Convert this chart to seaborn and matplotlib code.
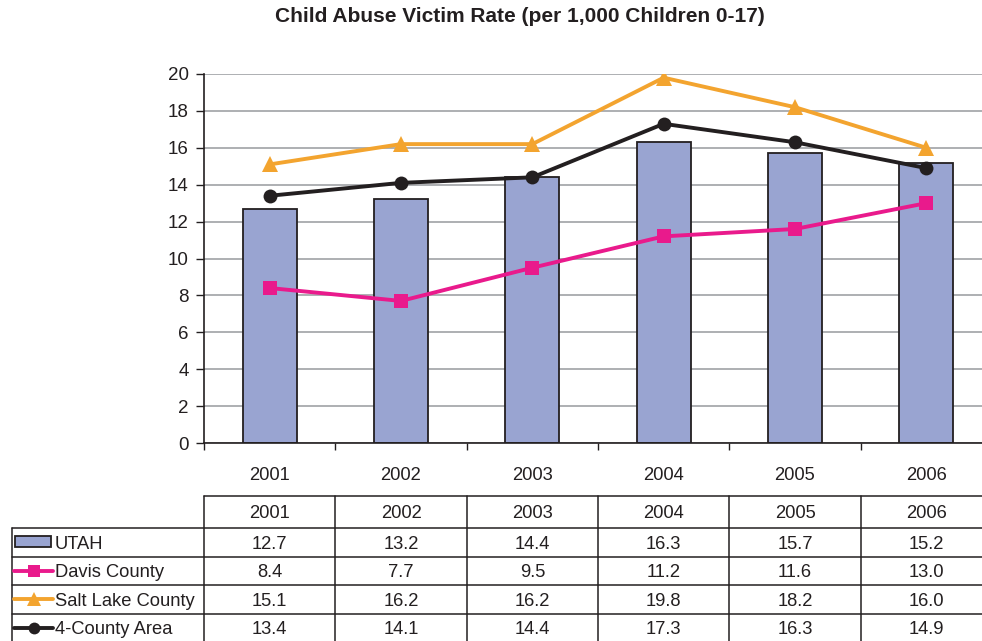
import numpy as np
import pandas as pd
import matplotlib
matplotlib.use("Agg")
import matplotlib.pyplot as plt
from matplotlib.lines import Line2D
from matplotlib.patches import Rectangle
import seaborn as sns

years = ["2001", "2002", "2003", "2004", "2005", "2006"]
utah = [12.7, 13.2, 14.4, 16.3, 15.7, 15.2]
davis = [8.4, 7.7, 9.5, 11.2, 11.6, 13.0]
salt_lake = [15.1, 16.2, 16.2, 19.8, 18.2, 16.0]
four_county = [13.4, 14.1, 14.4, 17.3, 16.3, 14.9]
series_names = ["UTAH", "Davis County", "Salt Lake County", "4-County Area"]

BAR_C = "#99A4D1"
EDGE_C = "#231F20"
DAVIS_C = "#E91A8C"
SALT_C = "#F3A42F"
FOUR_C = "#231F20"
TXT_C = "#231F20"
FS = 13.2

sns.set_theme(style="white")
plt.rcParams["font.family"] = ["Liberation Sans", "DejaVu Sans"]

W, H = 982, 641
fig = plt.figure(figsize=(W / 100, H / 100), dpi=100)


def fx(x):
    return x / W


def fy(y):
    return 1 - y / H


# plot area in pixel space: x 204..992, y 74..443
ax = fig.add_axes([fx(204), fy(443), (992 - 204) / W, (443 - 74) / H])

df = pd.DataFrame({"year": years, "utah": utah, "davis": davis,
                   "salt": salt_lake, "four": four_county})
df["pos"] = np.arange(len(years))

sns.barplot(data=df, x="year", y="utah", color=BAR_C, width=0.41,
            edgecolor=EDGE_C, linewidth=1.3, saturation=1, ax=ax, zorder=2)

line_specs = [("davis", DAVIS_C, "s", 10), ("salt", SALT_C, "^", 11.5),
              ("four", FOUR_C, "o", 10)]
for col, c, m, ms in line_specs:
    sns.lineplot(data=df, x="pos", y=col, color=c, marker=m, markersize=ms,
                 markeredgewidth=0, linewidth=2.8, ax=ax, zorder=3)

ax.set_xlim(-0.5, len(years) - 0.5)
ax.set_ylim(0, 20)
ax.set_yticks(np.arange(0, 21, 2))
ax.set_xticks(np.arange(len(years)))
ax.set_xticklabels(years)
ax.set_xticks(np.arange(-0.5, len(years), 1.0), minor=True)
ax.set_xlabel("")
ax.set_ylabel("")
ax.yaxis.grid(True, color="#A7A9AC", linewidth=1.3, zorder=0)
ax.set_axisbelow(True)
for s in ["top", "right"]:
    ax.spines[s].set_visible(False)
ax.spines["left"].set_color(EDGE_C)
ax.spines["bottom"].set_color(EDGE_C)
ax.spines["left"].set_linewidth(1.2)
ax.spines["bottom"].set_linewidth(1.2)
ax.tick_params(axis="y", which="major", direction="out", length=6, width=1,
               color=EDGE_C, labelsize=13.5, labelcolor=TXT_C, pad=5, left=True)
ax.tick_params(axis="x", which="major", length=0, labelsize=FS,
               labelcolor=TXT_C, pad=17)
ax.tick_params(axis="x", which="minor", direction="out", length=5, width=1,
               color=EDGE_C, bottom=True)

fig.text(fx(520), fy(17), "Child Abuse Victim Rate (per 1,000 Children 0-17)",
         ha="center", va="center", fontsize=15, fontweight="bold", color=TXT_C)

# data table under the chart
col_w = (992 - 204) / len(years)
col_edges = [204 + i * col_w for i in range(len(years) + 1)]
row_edges = [496, 528, 556.5, 585, 613.5, 642]
lc = "#231F20"


def hline(x0, x1, y):
    fig.add_artist(Line2D([fx(x0), fx(x1)], [fy(y), fy(y)], color=lc, lw=1.1))


def vline(x, y0, y1):
    fig.add_artist(Line2D([fx(x), fx(x)], [fy(y0), fy(y1)], color=lc, lw=1.1))


hline(204, 1000, row_edges[0])
for y in row_edges[1:]:
    hline(12, 1000, y)
for x in col_edges:
    vline(x, row_edges[0], 645)
vline(12, row_edges[1], 645)

for i, yr in enumerate(years):
    cx = (col_edges[i] + col_edges[i + 1]) / 2
    fig.text(fx(cx), fy((row_edges[0] + row_edges[1]) / 2 + 1), yr,
             ha="center", va="center", fontsize=FS, color=TXT_C)

table_vals = [utah, davis, salt_lake, four_county]
for r, vals in enumerate(table_vals):
    cy = (row_edges[r + 1] + row_edges[r + 2]) / 2 + 2
    for i, v in enumerate(vals):
        cx = (col_edges[i] + col_edges[i + 1]) / 2
        fig.text(fx(cx), fy(cy), f"{v:.1f}", ha="center", va="center",
                 fontsize=FS, color=TXT_C)
    fig.text(fx(55), fy(cy), series_names[r], ha="left", va="center",
             fontsize=FS, color=TXT_C)

# legend keys in the first column
ky = (row_edges[1] + row_edges[2]) / 2
fig.add_artist(Rectangle((fx(15), fy(ky + 5)), 36 / W, 11 / H,
                         facecolor=BAR_C, edgecolor=EDGE_C, lw=1.3,
                         transform=fig.transFigure))
for r, (col, c, m, ms) in enumerate(line_specs, start=1):
    cy = (row_edges[r + 1] + row_edges[r + 2]) / 2
    fig.add_artist(Line2D([fx(14), fx(53)], [fy(cy), fy(cy)], color=c, lw=2.8))
    fig.add_artist(Line2D([fx(33.5)], [fy(cy)], color=c, marker=m,
                          markersize=ms * 0.85, markeredgewidth=0, lw=0))

fig.savefig("out.png", dpi=100)
